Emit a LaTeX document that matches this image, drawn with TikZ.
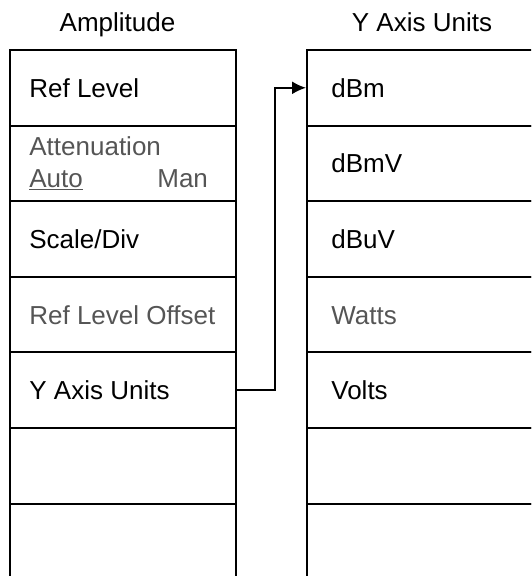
\documentclass[tikz,border=0pt]{standalone}
\usepackage{fontspec}
\setmainfont{Liberation Sans}
\usepackage{tikz}
\usetikzlibrary{arrows.meta}
\definecolor{dimtext}{RGB}{85,85,85}

\begin{document}
\begin{tikzpicture}[
	cell/.style={draw,line width=1.1pt,rectangle,minimum width=4.52cm,minimum height=1.512cm,inner sep=0pt},
	lbl/.style={anchor=base west,inner sep=0pt,font=\fontsize{14.8}{17}\selectfont},
	ttl/.style={anchor=base,inner sep=0pt,font=\fontsize{14.8}{17}\selectfont},
	off/.style={lbl,text=dimtext}]

	\useasboundingbox (0,0) rectangle (10.62,-11.52);
	\clip (0,0) rectangle (10.62,-11.52);

	\node[ttl] (amp) at (2.35,-0.64) {Amplitude};
	\node[ttl] (yax) at (8.44,-0.64) {Y Axis Units};

	\foreach \i in {1,...,7}{
		\node[cell] (L\i) at (2.46,{-1.0-1.512*(\i-0.5)}) {};
		\node[cell] (R\i) at (8.40,{-1.0-1.512*(\i-0.5)}) {};
	}

	% left menu
	\node[lbl] (reflev) at (0.58,-1.946) {Ref Level};
	\node[off] (atten) at (0.58,-3.10) {Attenuation};
	\node[off] (auto) at (0.58,-3.74) {\underline{Auto}};
	\node[off] (man) at (3.14,-3.74) {Man};
	\node[lbl] (scale) at (0.58,-4.97) {Scale/Div};
	\node[off] (offs) at (0.58,-6.482) {Ref Level Offset};
	\node[lbl] (units) at (0.58,-7.994) {Y Axis Units};

	% right menu
	\node[lbl] (dbm) at (6.62,-1.946) {dBm};
	\node[lbl] (dbmv) at (6.62,-3.458) {dBmV};
	\node[lbl] (dbuv) at (6.62,-4.97) {dBuV};
	\node[off] (watts) at (6.62,-6.482) {Watts};
	\node[lbl] (volts) at (6.62,-7.994) {Volts};

	\draw[line width=1.1pt,-{Latex[length=2.8mm,width=2.6mm]}] (L5.east) -- ++(0.76,0) |- (R1.west);

\end{tikzpicture}
\end{document}
